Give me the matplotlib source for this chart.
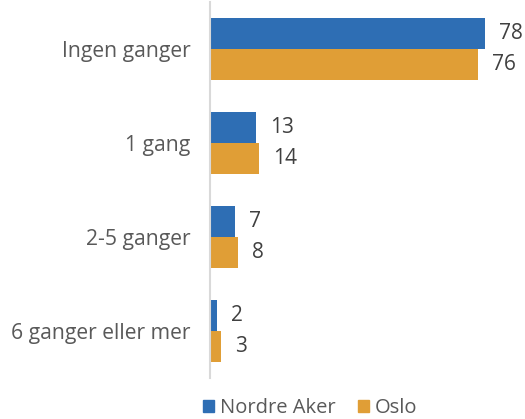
import matplotlib
matplotlib.use("Agg")
import matplotlib.pyplot as plt
import numpy as np
from matplotlib.patches import Patch

categories = ["Ingen ganger", "1 gang", "2-5 ganger", "6 ganger eller mer"]
series_names = ["Nordre Aker", "Oslo"]
nordre_aker = [78, 13, 7, 2]
oslo = [76, 14, 8, 3]

blue = "#2E6EB4"
orange = "#E09E36"
text_col = "#595959"

plt.rcParams["font.family"] = ["Open Sans", "DejaVu Sans"]

fig = plt.figure(figsize=(5.25, 4.19), dpi=100)
ax = fig.add_axes([210 / 525, 1 - 378 / 419, 312 / 525, 376 / 419])

y = np.arange(len(categories))
h = 0.33
b1 = ax.barh(y - h / 2, nordre_aker, height=h, color=blue)
b2 = ax.barh(y + h / 2, oslo, height=h, color=orange)

for bars, vals in ((b1, nordre_aker), (b2, oslo)):
    for bar, v in zip(bars, vals):
        ax.annotate(str(v), (bar.get_width(), bar.get_y() + bar.get_height() / 2),
                    xytext=(14, 0), textcoords="offset pixels",
                    ha="left", va="center", fontsize=15, color="#404040")

ax.set_xlim(0, 88.5)
ax.set_ylim(len(categories) - 0.5, -0.5)
ax.set_yticks(y)
ax.set_yticklabels(categories, fontsize=15.2, color=text_col)
ax.tick_params(axis="y", length=0, pad=14)
ax.set_xticks([])
for s in ("top", "right", "bottom"):
    ax.spines[s].set_visible(False)
ax.spines["left"].set_color("#D9D9D9")
ax.spines["left"].set_linewidth(1.5)

handles = [Patch(color=blue), Patch(color=orange)]
fig.legend(handles, series_names, loc="center", bbox_to_anchor=(310 / 525, 1 - 408 / 419),
           ncol=2, frameon=False, fontsize=14.5, labelcolor=text_col,
           handlelength=0.55, handleheight=0.55, handletextpad=0.3, columnspacing=1.1)

fig.savefig("out.png", dpi=100)
